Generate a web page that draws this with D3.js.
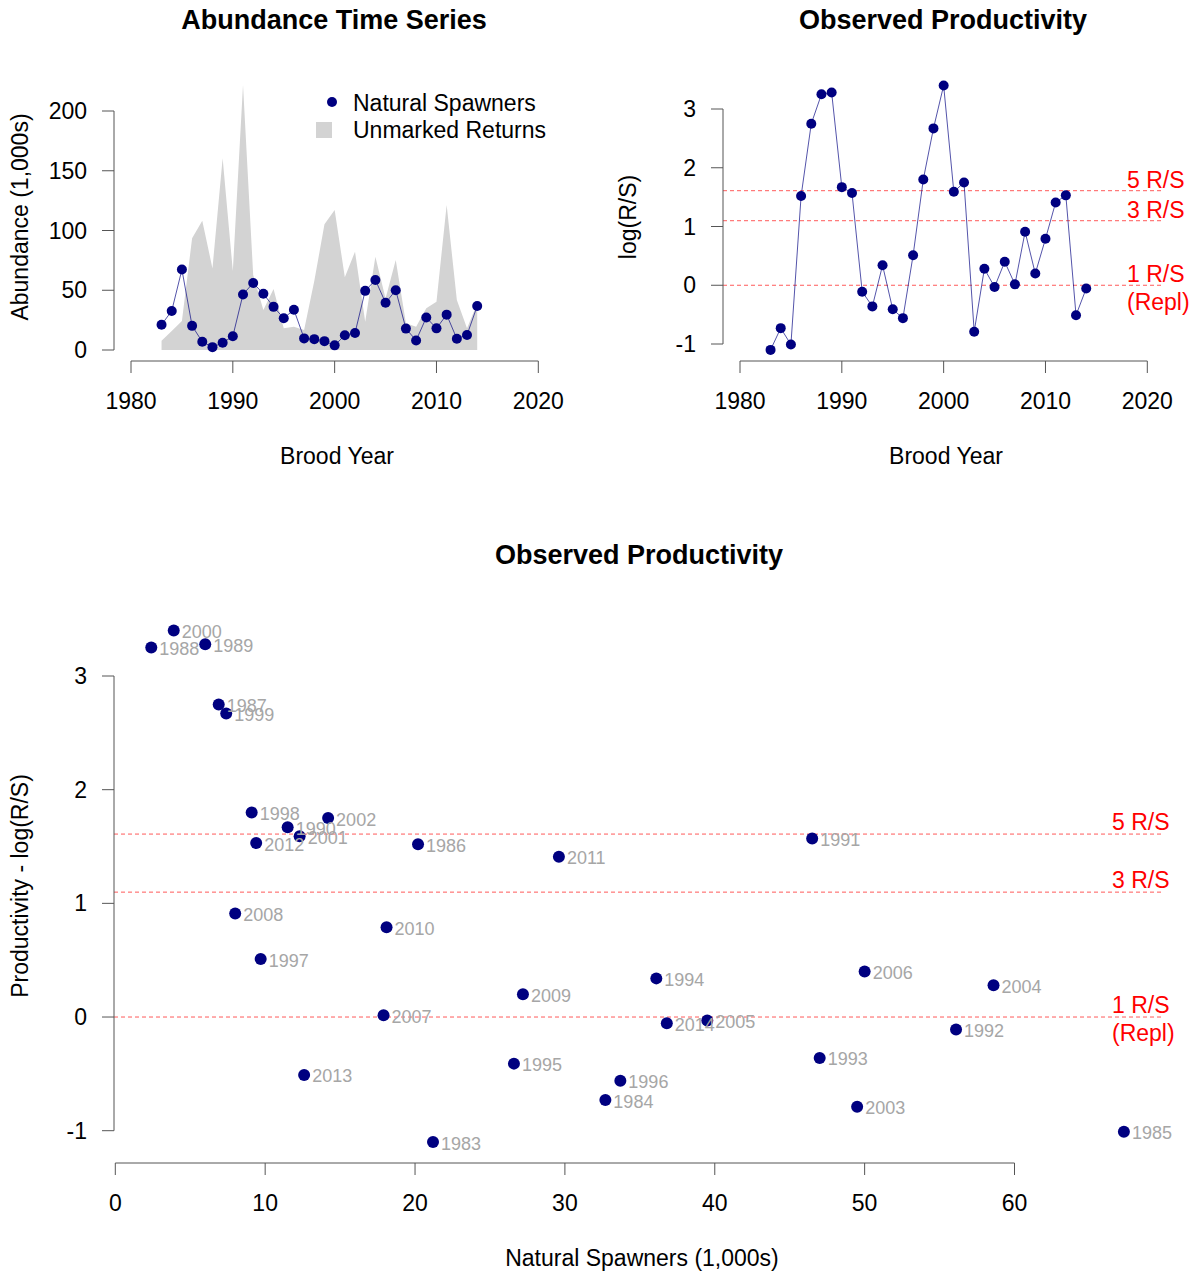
<!DOCTYPE html>
<html>
<head>
<meta charset="utf-8">
<script src="https://cdn.jsdelivr.net/npm/d3@7"></script>
<style>
  body { margin: 0; background: #fff; }
  text { font-family: "Liberation Sans", Arial, sans-serif; }
</style>
</head>
<body>
<script>
const W = 1194, H = 1273

// brood years 1983-2014
const years = d3.range(1983, 2015)
// natural spawners (1,000s)
const spawners = [21.2, 32.7, 67.3, 20.2, 6.9, 2.4, 6.0, 11.5, 46.5, 56.1, 47.0, 36.1, 26.6, 33.7, 9.7, 9.1,
  7.4, 3.9, 12.3, 14.2, 49.5, 58.6, 39.5, 50.0, 17.9, 8.0, 27.2, 18.1, 29.6, 9.4, 12.6, 36.8]
// unmarked returns (1,000s)
const unmarked = [7.8, 15.9, 24.3, 93.5, 108.2, 68.3, 160.4, 66.1, 221.8, 62.8, 33.5, 51.0, 18.1, 19.5, 16.7, 57.7,
  105.2, 117.2, 60.8, 82.3, 23.7, 78.1, 43.2, 75.3, 22.3, 19.5, 34.9, 40.4, 121.3, 41.8, 18.1, 39.0]
// log(R/S)
const logRS = [-1.10, -0.73, -1.01, 1.52, 2.75, 3.25, 3.28, 1.67, 1.57, -0.11, -0.36, 0.34, -0.41, -0.56, 0.51, 1.80,
  2.67, 3.40, 1.59, 1.75, -0.79, 0.28, -0.03, 0.40, 0.015, 0.91, 0.20, 0.79, 1.41, 1.53, -0.51, -0.055]

const refLines = [
  { v: Math.log(5), label: ["5 R/S"] },
  { v: Math.log(3), label: ["3 R/S"] },
  { v: 0, label: ["1 R/S", "(Repl)"] }
]
const yearTicks = [1980, 1990, 2000, 2010, 2020]

const rows = years.map((y, i) => ({ year: y, s: spawners[i], u: unmarked[i], r: logRS[i] }))

const svg = d3.select("body").append("svg").attr("width", W).attr("height", H)

const AXIS = "#555"
const NAVY = "#000080"
const RED = "red"
const FS = 23

function drawAxisX(scale, ticks, y0) {
  const g = svg.append("g")
  const [a, b] = d3.extent(ticks).map(scale)
  g.append("line").attr("x1", a).attr("x2", b).attr("y1", y0).attr("y2", y0).attr("stroke", AXIS)
  ticks.forEach(t => {
    g.append("line").attr("x1", scale(t)).attr("x2", scale(t)).attr("y1", y0).attr("y2", y0 + 12).attr("stroke", AXIS)
    g.append("text").attr("x", scale(t)).attr("y", y0 + 40).attr("text-anchor", "middle")
      .attr("dominant-baseline", "central").attr("font-size", FS).text(t)
  })
}
function drawAxisY(scale, ticks, x0) {
  const g = svg.append("g")
  const [a, b] = d3.extent(ticks).map(scale)
  g.append("line").attr("x1", x0).attr("x2", x0).attr("y1", a).attr("y2", b).attr("stroke", AXIS)
  ticks.forEach(t => {
    g.append("line").attr("x1", x0).attr("x2", x0 - 12).attr("y1", scale(t)).attr("y2", scale(t)).attr("stroke", AXIS)
    g.append("text").attr("x", x0 - 27).attr("y", scale(t)).attr("text-anchor", "end")
      .attr("dominant-baseline", "central").attr("font-size", FS).text(t)
  })
}
function title(txt, x, y) {
  svg.append("text").attr("x", x).attr("y", y).attr("text-anchor", "middle").attr("dominant-baseline", "central")
    .attr("font-size", 27).attr("font-weight", "bold").text(txt)
}
function label(txt, x, y, rot) {
  const t = svg.append("text").attr("text-anchor", "middle").attr("dominant-baseline", "central")
    .attr("font-size", FS).text(txt)
  if (rot) t.attr("transform", `translate(${x},${y}) rotate(-90)`)
  else t.attr("x", x).attr("y", y)
}
function refs(yScale, x1, x2, labelX, dy) {
  refLines.forEach(d => {
    svg.append("line").attr("x1", x1).attr("x2", x2).attr("y1", yScale(d.v)).attr("y2", yScale(d.v))
      .attr("stroke", RED).attr("stroke-opacity", 0.65).attr("stroke-dasharray", "4,3")
    d.label.forEach((l, k) => {
      svg.append("text").attr("x", labelX).attr("y", yScale(d.v) - dy + k * 28).attr("fill", RED)
        .attr("font-size", FS).attr("dominant-baseline", "central").text(l)
    })
  })
}

// ---- panel 1: abundance
const xA = d3.scaleLinear().domain([1980, 2020]).range([131, 538.3])
const yA = d3.scaleLinear().domain([0, 200]).range([350, 111])

svg.append("path").datum(rows)
  .attr("d", d3.area().x(d => xA(d.year)).y0(yA(0)).y1(d => yA(d.u)))
  .attr("fill", "#d3d3d3")
svg.append("path").datum(rows)
  .attr("d", d3.line().x(d => xA(d.year)).y(d => yA(d.s)))
  .attr("fill", "none").attr("stroke", NAVY).attr("stroke-opacity", 0.75).attr("stroke-width", 0.9)
svg.append("g").selectAll("circle").data(rows).join("circle")
  .attr("cx", d => xA(d.year)).attr("cy", d => yA(d.s)).attr("r", 5).attr("fill", NAVY)

drawAxisX(xA, yearTicks, 361)
drawAxisY(yA, [0, 50, 100, 150, 200], 114)
title("Abundance Time Series", 334, 20)
label("Brood Year", 337, 456)
label("Abundance (1,000s)", 20, 217, true)

// legend
svg.append("circle").attr("cx", 332).attr("cy", 102).attr("r", 5).attr("fill", NAVY)
svg.append("rect").attr("x", 316).attr("y", 122).attr("width", 16).attr("height", 16).attr("fill", "#d3d3d3")
svg.append("text").attr("x", 353).attr("y", 103).attr("font-size", FS).attr("dominant-baseline", "central").text("Natural Spawners")
svg.append("text").attr("x", 353).attr("y", 130).attr("font-size", FS).attr("dominant-baseline", "central").text("Unmarked Returns")

// ---- panel 2: productivity time series
const xB = d3.scaleLinear().domain([1980, 2020]).range([740, 1147.3])
const yB = d3.scaleLinear().domain([-1, 3]).range([344, 109])

refs(yB, 723, 1162, 1127, 11)
svg.append("path").datum(rows)
  .attr("d", d3.line().x(d => xB(d.year)).y(d => yB(d.r)))
  .attr("fill", "none").attr("stroke", NAVY).attr("stroke-opacity", 0.75).attr("stroke-width", 0.9)
svg.append("g").selectAll("circle").data(rows).join("circle")
  .attr("cx", d => xB(d.year)).attr("cy", d => yB(d.r)).attr("r", 5).attr("fill", NAVY)

drawAxisX(xB, yearTicks, 361)
drawAxisY(yB, [-1, 0, 1, 2, 3], 723)
title("Observed Productivity", 943, 20)
label("Brood Year", 946, 456)
label("log(R/S)", 628, 217, true)

// ---- panel 3: productivity vs spawners
const xC = d3.scaleLinear().domain([0, 60]).range([115.3, 1014.5])
const yC = d3.scaleLinear().domain([-1, 3]).range([1130.7, 676])

refs(yC, 114, 1164, 1112, 12)
const pts = svg.append("g")
pts.selectAll("circle").data(rows).join("circle")
  .attr("cx", d => xC(d.s)).attr("cy", d => yC(d.r)).attr("r", 6).attr("fill", NAVY)
pts.selectAll("text").data(rows).join("text")
  .attr("x", d => xC(d.s) + 8).attr("y", d => yC(d.r) + 1.5)
  .attr("dominant-baseline", "central").attr("font-size", 18).attr("fill", "#a6a6a6")
  .text(d => d.year)

drawAxisX(xC, [0, 10, 20, 30, 40, 50, 60], 1163)
drawAxisY(yC, [-1, 0, 1, 2, 3], 114)
title("Observed Productivity", 639, 555)
label("Natural Spawners (1,000s)", 642, 1258)
label("Productivity - log(R/S)", 20, 886, true)
</script>
</body>
</html>
